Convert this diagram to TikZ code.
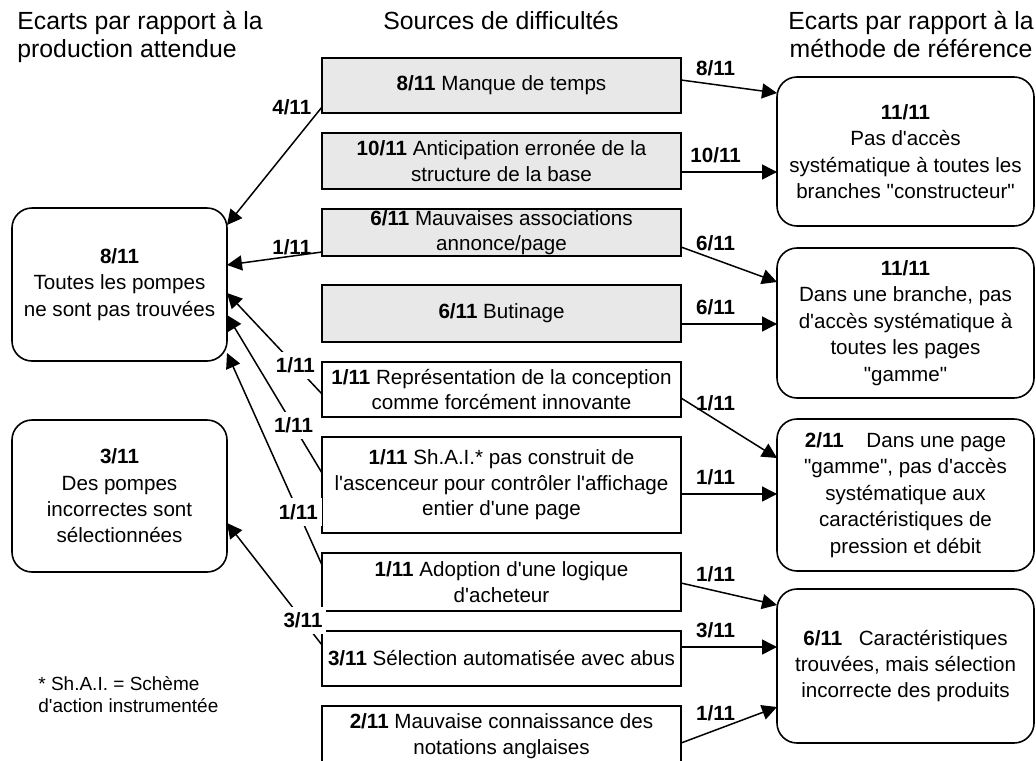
\documentclass[tikz,border=0pt]{standalone}
\usepackage{fontspec}
\usepackage{tikz}
\usetikzlibrary{positioning,arrows.meta}
\newfontfamily\arial{Liberation Sans}
\definecolor{grisclair}{RGB}{232,232,232}

\begin{document}
\begin{tikzpicture}[
  x=0.5pt, y=-0.5pt,
  node distance=10pt,
  cause/.style={draw,line width=0.9pt,align=center,inner xsep=2pt,inner ysep=0.5pt,outer sep=0pt,minimum width=179.5pt,font=\arial\fontsize{10.3}{12.8}\selectfont},
  ecart/.style={draw,line width=0.8pt,rounded corners=10pt,align=center,inner sep=2pt,outer sep=0pt,font=\arial\fontsize{10.3}{13.2}\selectfont},
  titre/.style={align=left,inner sep=0pt,font=\arial\fontsize{12.4}{14}\selectfont},
  fleche/.style={-{Triangle[length=7.5pt,width=7.5pt]},line width=0.75pt},
  taux/.style={font=\arial\fontsize{10.3}{12}\selectfont\bfseries,inner sep=1pt},
  tauxb/.style={taux,fill=white,inner xsep=2pt,inner ysep=3pt}
]
\useasboundingbox (0,0) rectangle (1036,760);

% titres des colonnes
\node[titre,anchor=north west] (tg) at (17,11) {Ecarts par rapport à la\\production attendue};
\node[titre,anchor=north] (tc) at (501,11) {Sources de difficultés};
\node[titre,align=center,anchor=north] (td) at (911,11) {Ecarts par rapport à la\\méthode de référence};

% sources de difficultés
\node[cause,fill=grisclair,minimum height=27.5pt] (c1) at (501.5,85.5) {\textbf{8/11} Manque de temps};
\node[cause,fill=grisclair,minimum height=28pt,below=of c1] (c2) {\textbf{10/11} Anticipation erronée de la\\structure de la base};
\node[cause,fill=grisclair,minimum height=23.5pt,below=of c2] (c3) {\textbf{6/11} Mauvaises associations\\annonce/page};
\node[cause,fill=grisclair,minimum height=28.5pt,below=14.5pt of c3] (c4) {\textbf{6/11} Butinage};
\node[cause,minimum height=27.5pt,below=of c4] (c5) {\textbf{1/11} Représentation de la conception\\comme forcément innovante};
\node[cause,minimum height=48pt,below=of c5] (c6) {\textbf{1/11} Sh.A.I.* pas construit de\\l'ascenceur pour contrôler l'affichage\\entier d'une page};
\node[cause,minimum height=29pt,below=of c6] (c7) {\textbf{1/11} Adoption d'une logique\\d'acheteur};
\node[cause,minimum height=27.5pt,below=of c7] (c8) {\textbf{3/11} Sélection automatisée avec abus};
\node[cause,minimum height=30pt,below=of c8] (c9) {\textbf{2/11} Mauvaise connaissance des\\notations anglaises};

% écarts à la méthode de référence
\node[ecart,minimum width=128.5pt,minimum height=74.5pt] (r1) at (905.5,151.5) {\textbf{11/11}\\Pas d'accès\\systématique à toutes les\\branches "constructeur"};
\node[ecart,minimum width=128.5pt,minimum height=75pt,below=11pt of r1] (r2) {\textbf{11/11}\\Dans une branche, pas\\d'accès systématique à\\toutes les pages\\"gamme"};
\node[ecart,minimum width=128.5pt,minimum height=76pt,below=10.5pt of r2] (r3) {\textbf{2/11}\hspace{1.1em}Dans une page\\"gamme", pas d'accès\\systématique aux\\caractéristiques de\\pression et débit};
\node[ecart,minimum width=128.5pt,minimum height=77pt,below=9pt of r3] (r4) {\textbf{6/11}\hspace{0.8em}Caractéristiques\\trouvées, mais sélection\\incorrecte des produits};

% écarts à la production attendue
\node[ecart,minimum width=107.5pt,minimum height=76.5pt] (l1) at (119.5,284.5) {\textbf{8/11}\\Toutes les pompes\\ne sont pas trouvées};
\node[ecart,minimum width=107.5pt,minimum height=76pt] (l2) at (119.5,496) {\textbf{3/11}\\Des pompes\\incorrectes sont\\sélectionnées};

\node[titre,font=\arial\fontsize{9.5}{10.8}\selectfont,anchor=north west] (note) at (38,676) {* Sh.A.I. = Schème\\d'action instrumentée};

\foreach \s/\ys/\d/\yd/\n in {c1/2.75/r1/29.25/8, c2/-5.5/r1/-10.25/10, c3/-7.25/r2/20.5/6, c4/-5.25/r2/-0.5/6, c5/-4.25/r3/18.5/1, c6/-4.5/r3/0.5/1, c7/-0.5/r4/30.5/1, c8/5.75/r4/9.5/3, c9/-3.5/r4/-20.5/1}
  \draw[fleche] ([yshift=\ys pt]\s.east) -- node[taux,pos=.36,above=3pt] {\n/11} ([yshift=\yd pt]\d.west);

\draw[fleche] ([yshift=-10.75pt]c1.west) -- node[taux,pos=0,left=4pt] {4/11} ([yshift=29.75pt]l1.east);
\draw[fleche] ([yshift=-9.75pt]c3.west) -- node[taux,pos=0,left=4pt,yshift=2.5pt] {1/11} ([yshift=9.75pt]l1.east);
\draw[fleche] ([yshift=-2.25pt]c5.west) -- node[tauxb,pos=.28] {1/11} ([yshift=-4.25pt]l1.east);
\draw[fleche] ([yshift=6pt]c6.west) -- node[tauxb,pos=.3] {1/11} ([yshift=-15.25pt]l1.east);
\draw[fleche] ([yshift=8.5pt]c7.west) -- node[tauxb,pos=.25] {1/11} ([yshift=-34.25pt]l1.east);
\draw[fleche] ([yshift=6.75pt]c8.west) -- node[tauxb,pos=.2] {3/11} ([yshift=-13.5pt]l2.east);
\end{tikzpicture}
\end{document}
